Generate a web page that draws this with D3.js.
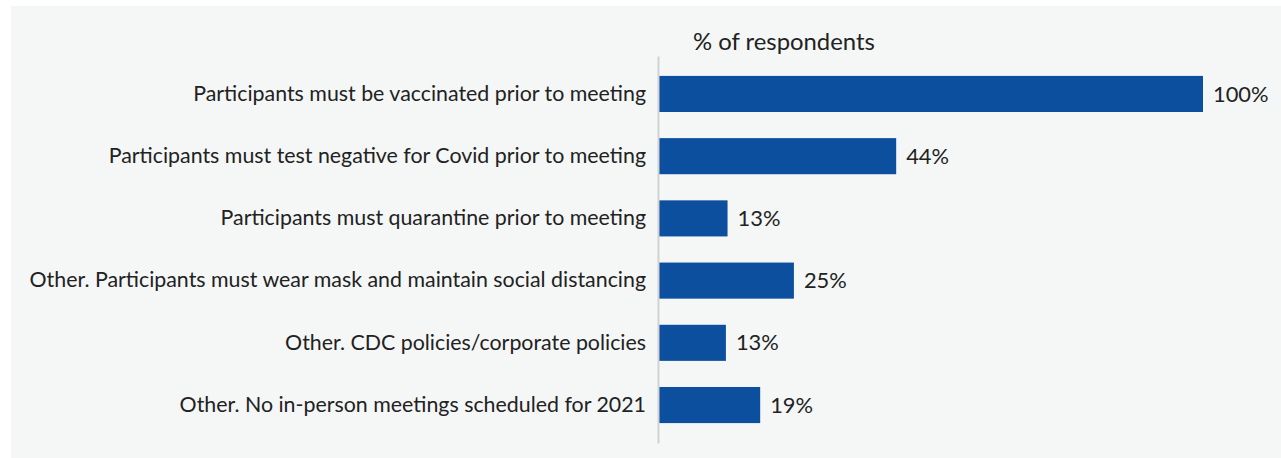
<!DOCTYPE html>
<html>
<head>
<meta charset="utf-8">
<script src="https://cdn.jsdelivr.net/npm/d3@7"></script>
<style>
  html, body { margin: 0; padding: 0; background: #ffffff; }
  svg { display: block; }
  text { font-family: Lato, "Noto Sans", sans-serif; fill: #222222; }
</style>
</head>
<body>
<svg id="chart" width="1281" height="458"></svg>
<script>
const categories = [
  "Participants must be vaccinated prior to meeting",
  "Participants must test negative for Covid prior to meeting",
  "Participants must quarantine prior to meeting",
  "Other. Participants must wear mask and maintain social distancing",
  "Other. CDC policies/corporate policies",
  "Other. No in-person meetings scheduled for 2021"
];
const values = [100, 43.6, 12.6, 24.8, 12.3, 18.6];
const valueLabels = ["100%", "44%", "13%", "25%", "13%", "19%"];
const axisTitle = "% of respondents";

const svg = d3.select("#chart");
const W = 1281, H = 458;

svg.append("rect")
  .attr("x", 11).attr("y", 6)
  .attr("width", W - 11).attr("height", H - 6)
  .attr("fill", "#f5f7f7");

const x = d3.scaleLinear().domain([0, 100]).range([659, 1203]);
const y = d3.scaleBand().domain(categories).range([56, 443])
  .paddingInner(0.42).paddingOuter(0.32);

const fontSize = 18;

// bars
svg.append("g").selectAll("rect")
  .data(categories)
  .join("rect")
  .attr("x", x(0))
  .attr("y", d => y(d))
  .attr("width", (d, i) => x(values[i]) - x(0))
  .attr("height", y.bandwidth())
  .attr("fill", "#0c4f9f");

// axis line (y axis without ticks)
const yAxis = d3.axisLeft(y).tickSize(0).tickPadding(12);
const gAxis = svg.append("g").attr("transform", `translate(${x(0) - 1},0)`).call(yAxis);
gAxis.select(".domain").attr("stroke", "#d2d2d2").attr("stroke-width", 2);
gAxis.selectAll(".tick text")
  .attr("font-family", "Lato, 'Noto Sans', sans-serif")
  .attr("font-size", fontSize)
  .attr("fill", "#222222");

// fit longest label to reference width
let maxLen = 0;
gAxis.selectAll(".tick text").each(function() { maxLen = Math.max(maxLen, this.getComputedTextLength()); });
const targetLen = 617;
const fs = fontSize * targetLen / maxLen;
gAxis.selectAll(".tick text").attr("font-size", fs);

// value labels
svg.append("g").selectAll("text")
  .data(categories)
  .join("text")
  .attr("x", (d, i) => x(values[i]) + 10)
  .attr("y", d => y(d) + y.bandwidth() / 2)
  .attr("dy", "0.35em")
  .attr("font-size", fs + 0.5)
  .text((d, i) => valueLabels[i]);

// axis title
const title = svg.append("text")
  .attr("x", 693)
  .attr("y", 50)
  .attr("font-size", fontSize)
  .text(axisTitle);
const tl = title.node().getComputedTextLength();
title.attr("font-size", fontSize * 182 / tl);
</script>
</body>
</html>
